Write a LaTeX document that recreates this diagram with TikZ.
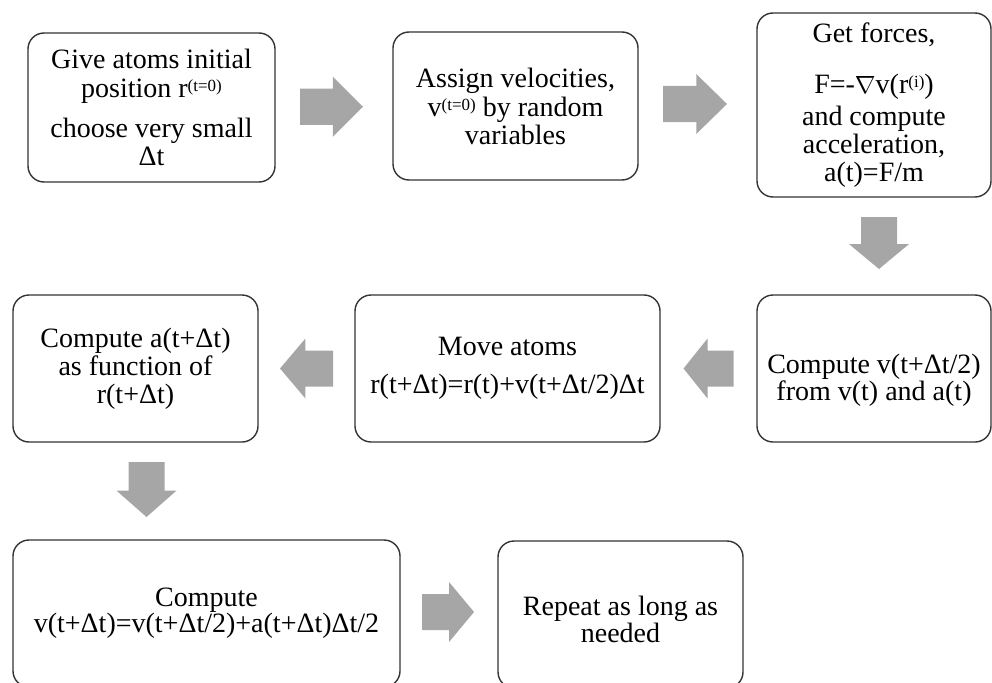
\documentclass[tikz,border=0pt]{standalone}
\usepackage{fontspec}
\setmainfont{Liberation Serif}
\usetikzlibrary{calc}
\definecolor{arrowfill}{HTML}{A6A6A6}
\definecolor{boxline}{HTML}{333333}
\newcommand\sups[1]{\raisebox{6pt}{\fontsize{17}{17}\selectfont #1}}
\newcommand\blockarrow[3]{%
  \begin{scope}[shift={#1},rotate=#2]
    \fill[arrowfill] ({-#3/2},-18) -- ({#3/2-0.48*#3},-18) -- ({#3/2-0.48*#3},-30)
      -- ({#3/2},0) -- ({#3/2-0.48*#3},30) -- ({#3/2-0.48*#3},18) -- ({-#3/2},18) -- cycle;
  \end{scope}}
\begin{document}
\begin{tikzpicture}[x=1pt,y=-1pt,
  txt/.style={align=center, inner sep=0pt, font=\fontsize{28}{28}\selectfont},
  box/.style={draw=boxline, line width=1.4pt, rounded corners=16pt, txt}]
\useasboundingbox (0,0) rectangle (992,682);
\clip (0,0) rectangle (992,682);
\node[box, minimum width=247pt, minimum height=149pt] (b1) at (151.5,107.5)
  {Give atoms initial\\[1pt] position r\sups{(t=0)}\\[12pt] choose very small\\ Δt};
\node[box, minimum width=245pt, minimum height=148pt] (b2) at (515.5,106)
  {Assign velocities,\\[1pt] v\sups{(t=0)} by random\\ variables};
\node[box, minimum width=234pt, minimum height=184pt] (b3) at (874,105)
  {Get forces,\\[23pt] F=-$\nabla$v(r\sups{(i)})\\[4pt] and compute\\ acceleration,\\ a(t)=F/m};
\node[box, minimum width=234pt, minimum height=147pt,
  label={[txt, yshift=-12pt]center:{Compute v(t+Δt/2)\\[-1pt] from v(t) and a(t)}}] (b4) at (874,368.5) {};
\node[box, minimum width=305pt, minimum height=147pt] (b5) at (507.5,368.5)
  {Move atoms\\[10pt] r(t+Δt)=r(t)+v(t+Δt/2)Δt};
\node[box, minimum width=245pt, minimum height=147pt] (b6) at (135.5,368.5)
  {Compute a(t+Δt)\\ as function of\\ r(t+Δt)};
\node[box, minimum width=387pt, minimum height=147pt] (b7) at (206.5,613.5)
  {Compute\\[-2pt] v(t+Δt)=v(t+Δt/2)+a(t+Δt)Δt/2};
\node[box, minimum width=245pt, minimum height=147pt,
  label={[txt, yshift=-5pt]center:{Repeat as long as\\[-1pt] needed}}] (b8) at (620.5,614.5) {};
\blockarrow{($(b1.east)!0.5!(b2.west)+(-2.5,0)$)}{0}{63}
\blockarrow{($(b2.east)!0.5!(b3.west)+(-2.5,-1.5)$)}{0}{64}
\blockarrow{($(b3.south)!0.5!(b4.north)+(5,-3)$)}{-90}{52}
\blockarrow{($(b4.west)!0.5!(b5.east)$)}{180}{50}
\blockarrow{($(b5.west)!0.5!(b6.east)$)}{180}{53}
\blockarrow{($(b6.south)!0.5!(b6.south|-b7.north)+(11,-1.5)$)}{-90}{55}
\blockarrow{($(b7.east)!0.5!(b8.west)+(-1,-2)$)}{0}{52}
\end{tikzpicture}
\end{document}
